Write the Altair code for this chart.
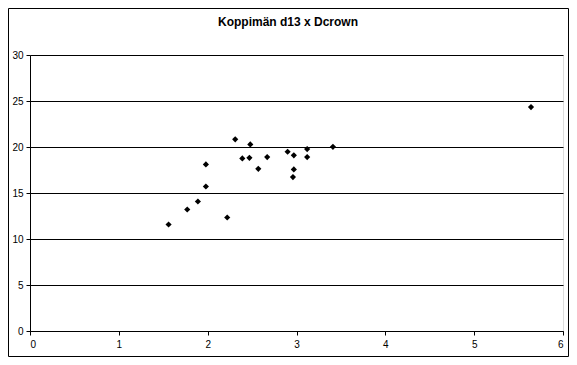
import altair as alt
import pandas as pd

dcrown = [2.31, 2.48, 2.39, 2.47, 2.67, 2.90, 2.97, 3.12, 3.12, 3.41,
          2.57, 2.97, 2.96, 1.98, 1.98, 1.89, 1.77, 2.22, 1.56, 5.64]
d13 = [20.83, 20.28, 18.76, 18.82, 18.90, 19.48, 19.09, 19.77, 18.90, 20.02,
       17.63, 17.56, 16.73, 18.11, 15.71, 14.08, 13.21, 12.34, 11.58, 24.34]
x_ticks = [0, 1, 2, 3, 4, 5, 6]
y_ticks = [0, 5, 10, 15, 20, 25, 30]
title_text = "Koppimän d13 x Dcrown"

df = pd.DataFrame({"Dcrown": dcrown, "d13": d13})

W, H = 533, 276
FONT = "Liberation Sans"

points = alt.Chart(df).mark_point(
    shape="diamond", filled=True, color="black", size=38, opacity=1
).encode(
    x=alt.X("Dcrown:Q", scale=alt.Scale(domain=[0, 6], nice=False, zero=True),
            axis=alt.Axis(values=x_ticks, title=None, grid=False, tickSize=4,
                          labelPadding=4, domainColor="black", tickColor="black",
                          labelColor="black", labelFont=FONT, labelFontSize=10,
                          format="d")),
    y=alt.Y("d13:Q", scale=alt.Scale(domain=[0, 30], nice=False),
            axis=alt.Axis(values=y_ticks, title=None, grid=True, gridColor="black",
                          gridOpacity=1, gridWidth=1, tickSize=4, labelPadding=3,
                          domainColor="black", tickColor="black", labelColor="black",
                          labelFont=FONT, labelFontSize=10, format="d")),
)

frame = alt.Chart(df.head(1)).mark_rect(
    fill=None, stroke="black", strokeWidth=1, clip=False
).encode(
    x=alt.value(-21.5), x2=alt.value(538.5), y=alt.value(-46.5), y2=alt.value(301.5)
)

title = alt.Chart(pd.DataFrame({"t": [title_text]})).mark_text(
    font=FONT, fontSize=12, fontWeight="bold", color="black", baseline="middle",
    align="center", clip=False
).encode(
    text="t:N", x=alt.value(258), y=alt.value(-33)
)

chart = alt.layer(frame, points, title).properties(
    width=W, height=H,
    autosize=alt.AutoSizeParams(type="none"),
    padding={"left": 22, "top": 47, "right": 6, "bottom": 26},
).configure_view(
    stroke="black", strokeWidth=1
).configure(
    background="white"
)

chart.save("out.html", embed_options={"renderer": "svg", "actions": False})
